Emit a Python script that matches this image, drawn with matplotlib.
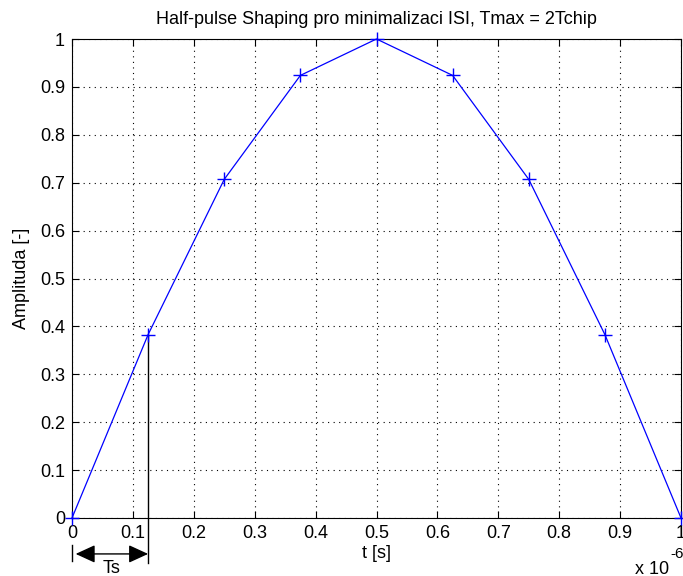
import numpy as np
import matplotlib
matplotlib.use("Agg")
import matplotlib.pyplot as plt

# sample times (in microseconds, axis shows x 10^-6) and pulse amplitudes
t_us = [0.0, 0.125, 0.25, 0.375, 0.5, 0.625, 0.75, 0.875, 1.0]
amplitude = [0.0, 0.383, 0.707, 0.924, 1.0, 0.924, 0.707, 0.383, 0.0]
ts_mark = 0.125
x_ticks = [0, 0.1, 0.2, 0.3, 0.4, 0.5, 0.6, 0.7, 0.8, 0.9, 1]
y_ticks = [0, 0.1, 0.2, 0.3, 0.4, 0.5, 0.6, 0.7, 0.8, 0.9, 1]

FS = 13
plt.rcParams['font.family'] = ['Liberation Sans', 'DejaVu Sans']
plt.rcParams['font.size'] = FS

fig = plt.figure(figsize=(6.83, 5.76), dpi=100)
ax = fig.add_axes([72/683, 58/576, 609/683, 479/576])

ax.plot(t_us, amplitude, '-+', color='blue', lw=0.9, ms=9.5, mew=1.0, clip_on=False, zorder=3)

# Ts marker line and arrow
idx = t_us.index(ts_mark)
ax.plot([ts_mark, ts_mark], [amplitude[idx], -0.094], color='black', lw=1.0, clip_on=False)
ax.plot([0, 0], [-0.056, -0.090], color='black', lw=1.0, clip_on=False)
ax.annotate('', xy=(0.006, -0.075), xytext=(ts_mark, -0.075),
            arrowprops=dict(arrowstyle='<|-|>,head_length=1.2,head_width=0.55',
                            color='black', lw=1.0, mutation_scale=10,
                            shrinkA=0, shrinkB=0),
            annotation_clip=False)
ax.text(ts_mark / 2 + 0.003, -0.087, 'Ts', ha='center', va='top', fontsize=FS)

ax.set_xlim(0, 1)
ax.set_ylim(0, 1)
ax.set_xticks(x_ticks)
ax.set_yticks(y_ticks)
ax.set_xticklabels([f"{v:g}" for v in x_ticks])
ax.set_yticklabels([f"{v:g}" for v in y_ticks])
ax.tick_params(direction='in', length=5, width=0.8, top=True, right=True, pad=5)
ax.grid(True, color='black', linestyle=(0, (1, 4)), lw=0.8)
for s in ax.spines.values():
    s.set_linewidth(0.8)

ax.set_title('Half-pulse Shaping pro minimalizaci ISI, Tmax = 2Tchip', fontsize=FS, pad=11)
ax.set_xlabel('t [s]', labelpad=2)
ax.set_ylabel('Amplituda [-]', labelpad=7)

# axis multiplier
fig.text(635/683, 1 - 574/576, 'x 10', ha='left', va='baseline', fontsize=FS)
fig.text(670/683, 1 - 558/576, '-6', ha='left', va='baseline', fontsize=FS - 2)

fig.savefig('out.png', dpi=100)
